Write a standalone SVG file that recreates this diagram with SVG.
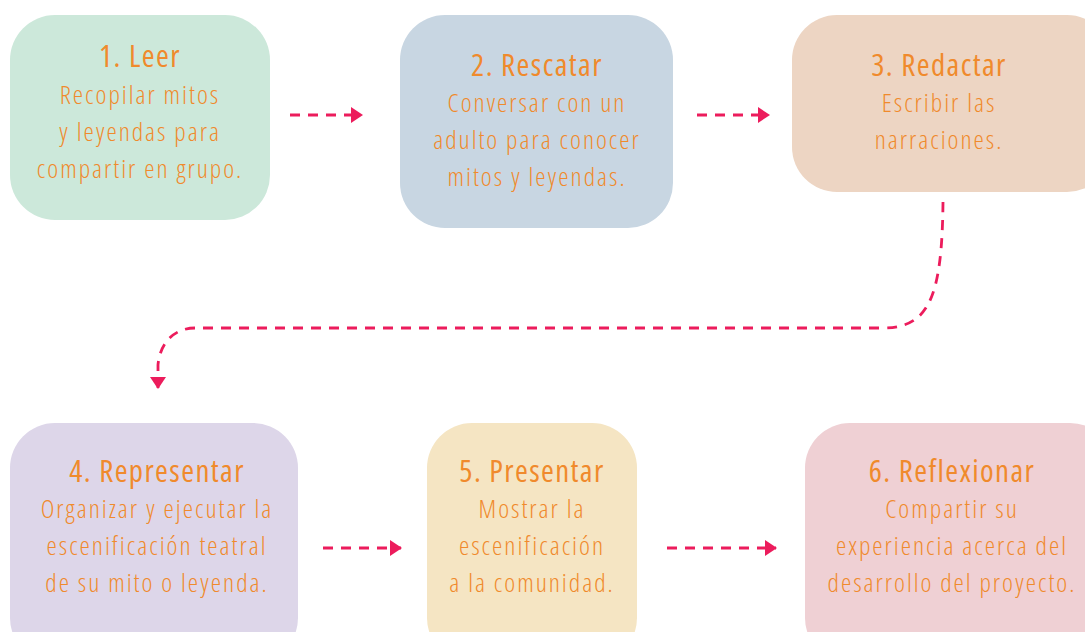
<svg xmlns="http://www.w3.org/2000/svg" width="1085" height="632" viewBox="0 0 1085 632">
<style>
text{font-family:"Open Sans",sans-serif;font-stretch:75%;fill:#f08a2c;text-anchor:middle}
.t{font-size:31px;font-weight:400;letter-spacing:1.4px}
.b{font-size:26px;font-weight:300;letter-spacing:2px}
.c{fill:none;stroke:#ec1c5c;stroke-width:2.8;stroke-dasharray:10 8}
</style>
<defs>
<marker id="ah" viewBox="0 0 12 16" refX="11" refY="8" markerWidth="12" markerHeight="16" markerUnits="userSpaceOnUse" orient="auto"><path d="M0,0L12,8L0,16Z" fill="#ec1c5c"/></marker>
</defs>
<rect width="1085" height="632" fill="#fff"/>
<g id="n1"><rect x="10" y="15" width="260" height="205" rx="45" fill="#cce8da"/>
<text class="t" x="140" y="67">1. Leer</text>
<text class="b" x="140" y="104">Recopilar mitos</text>
<text class="b" x="140" y="141">y leyendas para</text>
<text class="b" x="140" y="178">compartir en grupo.</text></g>
<g id="n2"><rect x="400" y="15" width="273" height="213" rx="45" fill="#c8d6e2"/>
<text class="t" x="537" y="76">2. Rescatar</text>
<text class="b" x="537" y="112">Conversar con un</text>
<text class="b" x="537" y="149">adulto para conocer</text>
<text class="b" x="537" y="186">mitos y leyendas.</text></g>
<g id="n3"><rect x="792" y="15" width="320" height="177" rx="45" fill="#edd5c3"/>
<text class="t" x="939" y="76">3. Redactar</text>
<text class="b" x="939" y="112">Escribir las</text>
<text class="b" x="939" y="149">narraciones.</text></g>
<g id="n4"><rect x="10" y="423" width="288" height="240" rx="45" fill="#ddd6e9"/>
<text class="t" x="157" y="482">4. Representar</text>
<text class="b" x="157" y="518">Organizar y ejecutar la</text>
<text class="b" x="157" y="555">escenificación teatral</text>
<text class="b" x="157" y="592">de su mito o leyenda.</text></g>
<g id="n5"><rect x="427" y="423" width="210" height="240" rx="45" fill="#f5e5c3"/>
<text class="t" x="532" y="482">5. Presentar</text>
<text class="b" x="532" y="518">Mostrar la</text>
<text class="b" x="532" y="555">escenificación</text>
<text class="b" x="532" y="592">a la comunidad.</text></g>
<g id="n6"><rect x="805" y="423" width="310" height="240" rx="45" fill="#efd0d4"/>
<text class="t" x="952" y="482">6. Reflexionar</text>
<text class="b" x="952" y="518">Compartir su</text>
<text class="b" x="952" y="555">experiencia acerca del</text>
<text class="b" x="952" y="592">desarrollo del proyecto.</text></g>
<g id="connectors">
<path class="c" d="M290,115H362" marker-end="url(#ah)"/>
<path class="c" d="M697,115H769" marker-end="url(#ah)"/>
<path class="c" d="M323,548H401" marker-end="url(#ah)"/>
<path class="c" d="M667,548H776" marker-end="url(#ah)"/>
<path class="c" d="M943,202C942,300 928,328 882,328H195C175,328 160,342 158,365V388" marker-end="url(#ah)"/>
</g>
</svg>
